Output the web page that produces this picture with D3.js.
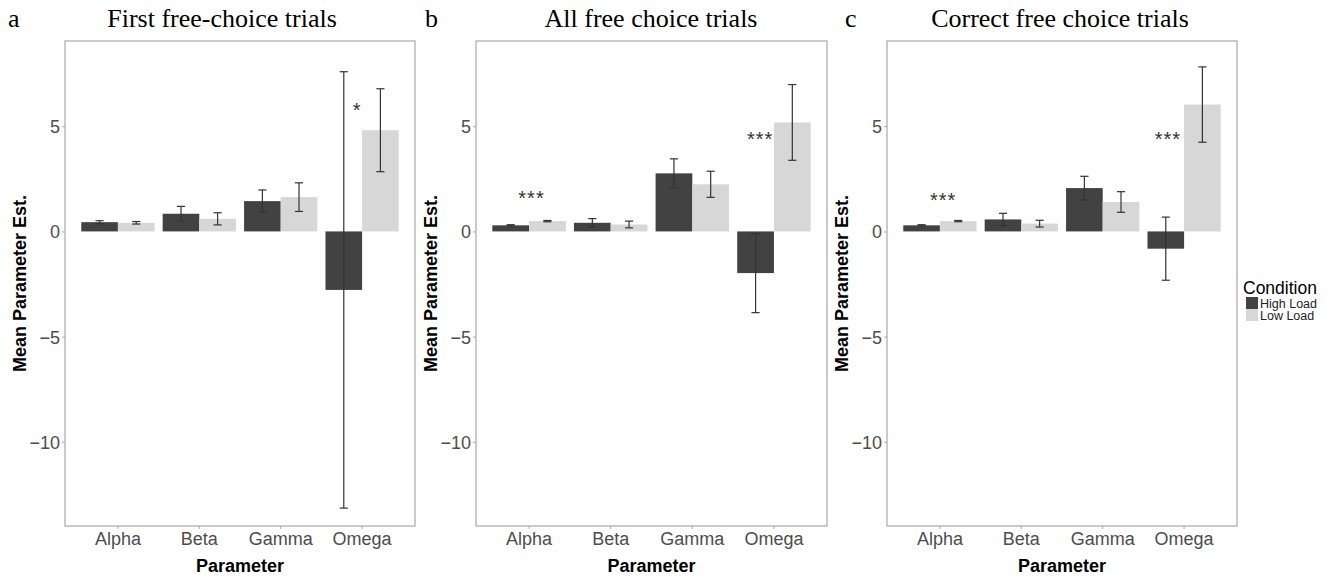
<!DOCTYPE html>
<html>
  <head>
    <meta charset="utf-8">
    <title>Mean parameter estimates</title>
    <script src="https://d3js.org/d3.v7.min.js"></script>
  </head>

  <style>
    body {
      margin: 0;
      background-color: white;
    }
    .panel_title, .panel_letter {
      font-family: 'Liberation Serif', 'Times New Roman', serif;
      font-size: 26px;
      fill: black;
    }
    .axis_title {
      font-family: 'Liberation Sans', Arial, sans-serif;
      font-size: 18px;
      font-weight: bold;
      fill: black;
    }
    .tick text {
      font-family: 'Liberation Sans', Arial, sans-serif;
      font-size: 18px;
      fill: #4d4d4d;
    }
    .tick line {
      stroke: #aaaaaa;
    }
    .stars {
      font-family: 'Liberation Sans', Arial, sans-serif;
      font-size: 20px;
      letter-spacing: 1px;
      fill: #333;
    }
  </style>

  <body>
    <div id="chart"></div>
    <script>

    var params = ['Alpha', 'Beta', 'Gamma', 'Omega'];
    var conditions = ['High Load', 'Low Load'];
    var yTicks = [-10, -5, 0, 5];
    var titles = ['First free-choice trials', 'All free choice trials', 'Correct free choice trials'];
    var letters = ['a', 'b', 'c'];

    // mean estimates and error bar half widths
    var firstHigh = [0.44, 0.84, 1.44, -2.78];
    var firstHighErr = [0.07, 0.35, 0.53, 10.37];
    var firstLow = [0.41, 0.60, 1.63, 4.81];
    var firstLowErr = [0.06, 0.29, 0.68, 1.97];

    var allHigh = [0.29, 0.41, 2.76, -1.98];
    var allHighErr = [0.03, 0.20, 0.69, 1.88];
    var allLow = [0.49, 0.33, 2.24, 5.18];
    var allLowErr = [0.03, 0.16, 0.62, 1.80];

    var correctHigh = [0.29, 0.57, 2.06, -0.82];
    var correctHighErr = [0.03, 0.29, 0.56, 1.50];
    var correctLow = [0.49, 0.37, 1.40, 6.03];
    var correctLowErr = [0.03, 0.16, 0.49, 1.79];

    // significance marks: parameter, x shift (in category units), y value
    var firstStars = [{ p: 'Omega', dx: -0.06, y: 5.97, label: '*' }];
    var allStars = [{ p: 'Alpha', dx: 0.03, y: 1.81, label: '***' },
                    { p: 'Omega', dx: -0.17, y: 4.58, label: '***' }];
    var correctStars = [{ p: 'Alpha', dx: 0.04, y: 1.68, label: '***' },
                        { p: 'Omega', dx: -0.2, y: 4.58, label: '***' }];

    var colors = d3.scaleOrdinal()
      .domain(conditions)
      .range(['#424242', '#d7d7d7']);

    var panels = [
      { left: 65, right: 415, titleX: 222, letterX: 8,
        high: firstHigh, highErr: firstHighErr, low: firstLow, lowErr: firstLowErr, stars: firstStars },
      { left: 476, right: 827, titleX: 651, letterX: 425,
        high: allHigh, highErr: allHighErr, low: allLow, lowErr: allLowErr, stars: allStars },
      { left: 887, right: 1237, titleX: 1060, letterX: 845,
        high: correctHigh, highErr: correctHighErr, low: correctLow, lowErr: correctLowErr, stars: correctStars }
    ];

    var plotTop = 41;
    var plotBottom = 526;

    var svg = d3.select('#chart').append('svg')
      .attr('width', 1334)
      .attr('height', 577)
      .style('background', 'white');

    var yScale = d3.scaleLinear()
      .domain([-14.0, 9.05])
      .range([plotBottom, plotTop]);

    panels.forEach(function(p, k) {
      var xScale = d3.scaleBand()
        .domain(params)
        .range([p.left, p.right])
        .paddingInner(0.1)
        .paddingOuter(0.2);

      var xSub = d3.scaleBand()
        .domain(conditions)
        .range([0, xScale.bandwidth()]);

      var step = xScale.step();

      var rows = [];
      params.forEach(function(name, i) {
        rows.push({ p: name, c: 'High Load', v: p.high[i], e: p.highErr[i] });
        rows.push({ p: name, c: 'Low Load', v: p.low[i], e: p.lowErr[i] });
      });

      var g = svg.append('g');

      // bars
      g.selectAll('rect.bar')
        .data(rows)
        .enter().append('rect')
        .attr('class', 'bar')
        .attr('x', function(d) { return xScale(d.p) + xSub(d.c); })
        .attr('width', xSub.bandwidth())
        .attr('y', function(d) { return yScale(Math.max(0, d.v)); })
        .attr('height', function(d) { return Math.abs(yScale(d.v) - yScale(0)); })
        .attr('fill', function(d) { return colors(d.c); });

      // error bars
      var cap = step * 0.05;
      var eb = g.selectAll('g.err')
        .data(rows)
        .enter().append('g')
        .attr('class', 'err')
        .attr('stroke', '#333')
        .attr('stroke-width', 1.2);

      eb.append('line')
        .attr('x1', function(d) { return xScale(d.p) + xSub(d.c) + xSub.bandwidth() / 2; })
        .attr('x2', function(d) { return xScale(d.p) + xSub(d.c) + xSub.bandwidth() / 2; })
        .attr('y1', function(d) { return yScale(d.v + d.e); })
        .attr('y2', function(d) { return yScale(d.v - d.e); });

      [1, -1].forEach(function(sign) {
        eb.append('line')
          .attr('x1', function(d) { return xScale(d.p) + xSub(d.c) + xSub.bandwidth() / 2 - cap; })
          .attr('x2', function(d) { return xScale(d.p) + xSub(d.c) + xSub.bandwidth() / 2 + cap; })
          .attr('y1', function(d) { return yScale(d.v + sign * d.e); })
          .attr('y2', function(d) { return yScale(d.v + sign * d.e); });
      });

      // stars
      g.selectAll('text.stars')
        .data(p.stars)
        .enter().append('text')
        .attr('class', 'stars')
        .attr('text-anchor', 'middle')
        .attr('x', function(d) { return xScale(d.p) + xScale.bandwidth() / 2 + d.dx * step; })
        .attr('y', function(d) { return yScale(d.y); })
        .attr('dy', '0.57em')
        .text(function(d) { return d.label; });

      // panel border
      g.append('rect')
        .attr('x', p.left)
        .attr('y', plotTop)
        .attr('width', p.right - p.left)
        .attr('height', plotBottom - plotTop)
        .attr('fill', 'none')
        .attr('stroke', '#b0b0b0')
        .attr('stroke-width', 1.3);

      // axes
      var yAxis = d3.axisLeft(yScale)
        .tickValues(yTicks)
        .tickSize(3)
        .tickPadding(2)
        .tickFormat(function(d) { return d < 0 ? '\u2212' + Math.abs(d) : d; });

      var yG = g.append('g')
        .attr('transform', 'translate(' + p.left + ',0)')
        .call(yAxis);
      yG.select('.domain').remove();
      yG.selectAll('.tick text').attr('dy', '0.36em');

      var xAxis = d3.axisBottom(xScale)
        .tickSize(3)
        .tickPadding(3);

      var xG = g.append('g')
        .attr('transform', 'translate(0,' + plotBottom + ')')
        .call(xAxis);
      xG.select('.domain').remove();

      // titles
      svg.append('text')
        .attr('class', 'panel_title')
        .attr('text-anchor', 'middle')
        .attr('x', p.titleX)
        .attr('y', 27)
        .text(titles[k]);

      svg.append('text')
        .attr('class', 'panel_letter')
        .attr('x', p.letterX)
        .attr('y', 27)
        .text(letters[k]);

      svg.append('text')
        .attr('class', 'axis_title')
        .attr('text-anchor', 'middle')
        .attr('x', (p.left + p.right) / 2)
        .attr('y', 572)
        .text('Parameter');

      svg.append('text')
        .attr('class', 'axis_title')
        .attr('text-anchor', 'middle')
        .attr('transform', 'translate(' + (p.left - 39) + ',' + ((plotTop + plotBottom) / 2) + ') rotate(-90)')
        .text('Mean Parameter Est.');
    });

    // legend
    var legend = svg.append('g')
      .attr('transform', 'translate(1243,0)');

    legend.append('text')
      .attr('x', 0)
      .attr('y', 294)
      .style('font-family', "'Liberation Sans', Arial, sans-serif")
      .style('font-size', '17.5px')
      .text('Condition');

    legend.selectAll('rect')
      .data(conditions)
      .enter().append('rect')
      .attr('x', 3)
      .attr('y', function(d, i) { return 297 + i * 12; })
      .attr('width', 12)
      .attr('height', 12)
      .attr('fill', function(d) { return colors(d); });

    legend.selectAll('text.lab')
      .data(conditions)
      .enter().append('text')
      .attr('class', 'lab')
      .attr('x', 17)
      .attr('y', function(d, i) { return 307.5 + i * 12; })
      .style('font-family', "'Liberation Sans', Arial, sans-serif")
      .style('font-size', '12.5px')
      .style('fill', '#222')
      .text(function(d) { return d; });

    </script>
  </body>
</html>
